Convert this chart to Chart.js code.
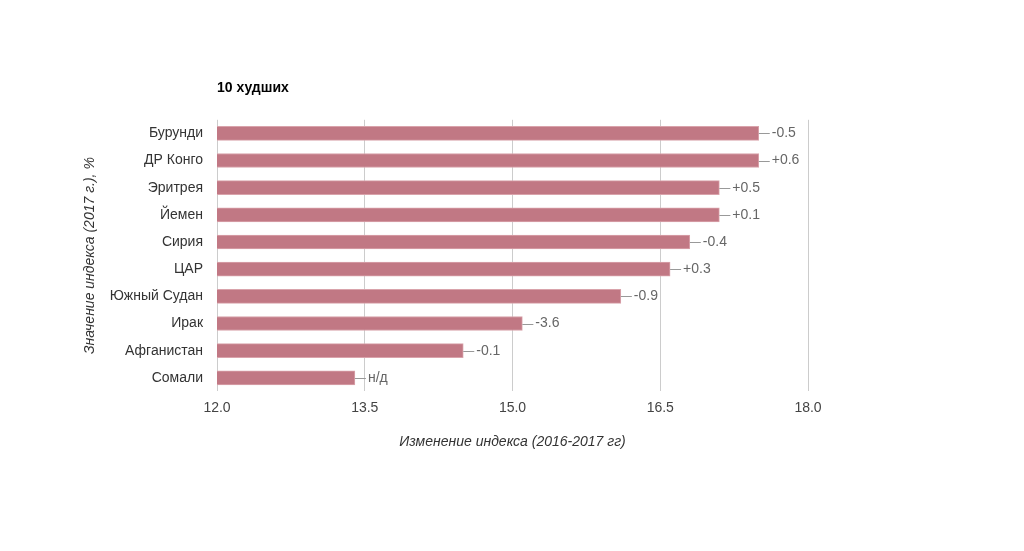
<!DOCTYPE html>
<html>
<head>
<meta charset="utf-8">
<script src="https://cdn.jsdelivr.net/npm/chart.js@4/dist/chart.umd.min.js"></script>
<style>
  body { margin: 0; background: #fff; }
  #wrap { width: 1024px; height: 551px; }
</style>
</head>
<body>
<div id="wrap"><canvas id="chart" width="1024" height="551"></canvas></div>
<script>
const countries = ['Бурунди', 'ДР Конго', 'Эритрея', 'Йемен', 'Сирия', 'ЦАР', 'Южный Судан', 'Ирак', 'Афганистан', 'Сомали'];
const indexValues = [17.5, 17.5, 17.1, 17.1, 16.8, 16.6, 16.1, 15.1, 14.5, 13.4];
const changeLabels = ['-0.5', '+0.6', '+0.5', '+0.1', '-0.4', '+0.3', '-0.9', '-3.6', '-0.1', 'н/д'];
const xTicks = [12.0, 13.5, 15.0, 16.5, 18.0];

const FONT = "'Liberation Sans', Arial, sans-serif";

// подписи изменения индекса справа от столбцов
const changePlugin = {
  id: 'changeLabels',
  afterDatasetsDraw(chart) {
    const ctx = chart.ctx;
    const meta = chart.getDatasetMeta(0);
    ctx.save();
    ctx.font = '14px ' + FONT;
    ctx.textBaseline = 'middle';
    ctx.textAlign = 'left';
    meta.data.forEach((bar, i) => {
      const x = bar.x, y = bar.y;
      ctx.strokeStyle = '#999';
      ctx.lineWidth = 1;
      ctx.beginPath();
      ctx.moveTo(x, Math.round(y) + 0.5);
      ctx.lineTo(x + 11, Math.round(y) + 0.5);
      ctx.stroke();
      ctx.fillStyle = '#666';
      ctx.fillText(changeLabels[i], x + 13, y);
    });
    ctx.restore();
  }
};

new Chart(document.getElementById('chart'), {
  type: 'bar',
  data: {
    labels: countries,
    datasets: [{
      data: indexValues,
      backgroundColor: '#c17884',
      borderColor: '#d9a3ab',
      borderWidth: 1,
      borderSkipped: false,
      barThickness: 14
    }]
  },
  options: {
    indexAxis: 'y',
    responsive: false,
    animation: false,
    layout: { padding: { left: 80, right: 216, top: 0, bottom: 100 } },
    plugins: {
      legend: { display: false },
      tooltip: { enabled: false },
      title: {
        display: true,
        text: '10 худших',
        align: 'start',
        fullSize: false,
        color: '#000',
        font: { family: FONT, size: 14, weight: 'bold' },
        padding: { top: 80, bottom: 23 }
      }
    },
    scales: {
      x: {
        min: 12,
        max: 18,
        afterBuildTicks(scale) {
          scale.ticks = xTicks.map(v => ({ value: v }));
        },
        grid: { color: '#cccccc', drawTicks: false },
        border: { display: false },
        ticks: {
          color: '#444',
          padding: 8,
          font: { family: FONT, size: 14 },
          callback: v => Number(v).toFixed(1)
        },
        title: {
          display: true,
          text: 'Изменение индекса (2016-2017 гг)',
          color: '#333',
          font: { family: FONT, size: 14, style: 'italic' },
          padding: { top: 10, bottom: 0 }
        }
      },
      y: {
        grid: { display: false },
        border: { display: false },
        afterFit(scale) { scale.width = 137; },
        ticks: {
          color: '#333',
          padding: 6,
          font: { family: FONT, size: 14 }
        },
        title: {
          display: true,
          text: 'Значение индекса (2017 г.), %',
          color: '#333',
          font: { family: FONT, size: 14, style: 'italic' },
          padding: { top: 2, bottom: 0 }
        }
      }
    }
  },
  plugins: [changePlugin]
});
</script>
</body>
</html>
